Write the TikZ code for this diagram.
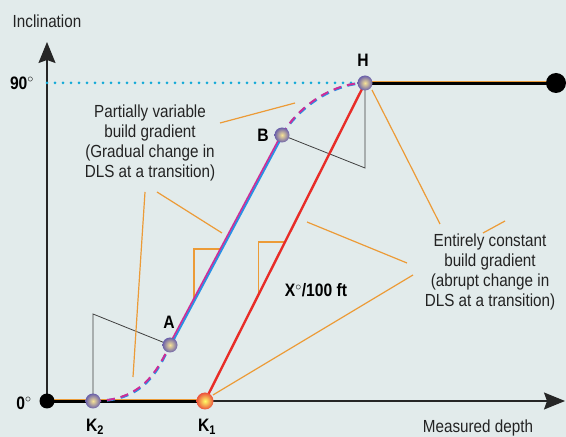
\documentclass[tikz,border=0pt]{standalone}
\usepackage{fontspec}
\setmainfont{Liberation Sans}[FakeStretch=0.87]
\usetikzlibrary{calc,arrows.meta}

\definecolor{paper}{RGB}{226,235,235}
\definecolor{dotcyan}{RGB}{20,170,215}
\definecolor{leadorange}{RGB}{236,155,55}
\definecolor{wellred}{RGB}{232,45,40}
\definecolor{wellblue}{RGB}{40,145,230}
\definecolor{wellmag}{RGB}{205,45,150}
\definecolor{ballrim}{RGB}{105,95,170}
\definecolor{ballcore}{RGB}{248,228,150}
\definecolor{redrim}{RGB}{235,80,60}
\definecolor{ink}{RGB}{35,35,35}

\begin{document}
\begin{tikzpicture}[x=1pt,y=1pt,
  txt/.style={font=\fontsize{17.5}{20}\selectfont, text=ink, align=center, inner sep=0pt},
  lbl/.style={font=\fontsize{18}{20}\selectfont\bfseries, inner sep=0pt},
  ball/.style={circle, minimum size=15pt, inner sep=0pt, shading=radial, inner color=ballcore, outer color=ballrim},
  blackdot/.style={circle, minimum size=15pt, inner sep=0pt, fill=black},
  leader/.style={leadorange, line width=1.2pt},
  axis/.style={black!85, line width=1.4pt, -{Stealth[length=21pt,width=17pt,inset=3pt]}}]

  % paper and frame
  \fill[paper] (0,0) rectangle (566,437);
  \useasboundingbox (0,0) rectangle (566,437);

  % points of the well path
  \coordinate (O) at (47,36);
  \coordinate (K2) at (93,36);
  \coordinate (K1) at (205,36);
  \coordinate (A) at (170,92);
  \coordinate (B) at (282,302);
  \coordinate (H) at (365,354);
  \coordinate (E) at (556,354);
  \coordinate (Y90) at (47,354);
  \coordinate (Ytop) at (47,395);
  \coordinate (Xtip) at (565,36);

  % axes
  \draw[axis] (O) -- (Ytop);
  \draw[axis] (O) -- (Xtip);
  \draw[leadorange, line width=1.4pt] ([yshift=1.6pt]O) -- ([yshift=1.6pt]K1);
  \draw[black, line width=3pt] ([yshift=-0.2pt]O) -- ([yshift=-0.2pt]K1);
  \draw[leadorange, line width=1.4pt] ([yshift=1.6pt]H) -- ([yshift=1.6pt]E);
  \draw[black, line width=3pt] ([yshift=-0.2pt]H) -- ([yshift=-0.2pt]E);

  % 90 degree level
  \draw[dotcyan, line width=3pt, line cap=round, dash pattern=on 0pt off 8pt] (Y90) -- (H);

  % construction lines
  \coordinate (CA) at (93,123);
  \coordinate (CB) at (365,269);
  \draw[black!75, line width=0.8pt] (K2) -- (CA) -- (A);
  \draw[black!75, line width=0.8pt] (H) -- (CB) -- (B);

  % slope triangles
  \coordinate (T1a) at ($(A)!0.214!(B)$);
  \coordinate (T1b) at ($(A)!0.457!(B)$);
  \coordinate (T2a) at ($(K1)!0.333!(H)$);
  \coordinate (T2b) at ($(K1)!0.5!(H)$);
  \draw[leader] (T1a) |- (T1b);
  \draw[leader] (T2a) |- (T2b);

  % constant build gradient
  \draw[wellred, line width=2.4pt] (K1) -- (H);

  % partially variable build gradient
  \draw[wellblue, line width=2pt] ([xshift=0.9pt]A) -- ([xshift=0.9pt]B);
  \draw[wellmag, line width=1.6pt] ([xshift=-0.9pt]A) -- ([xshift=-0.9pt]B);
  \draw[wellblue, line width=2.6pt, dash pattern=on 8pt off 6pt, xshift=0.8pt, yshift=-0.8pt]
    (K2) .. controls (142,36) and (157,66) .. (A);
  \draw[wellmag, line width=2pt, dash pattern=on 8pt off 6pt]
    (K2) .. controls (142,36) and (157,66) .. (A);
  \draw[wellblue, line width=2.6pt, dash pattern=on 8pt off 6pt, xshift=0.8pt, yshift=-0.8pt]
    (B) .. controls (296,328) and (330,354) .. (H);
  \draw[wellmag, line width=2pt, dash pattern=on 8pt off 6pt]
    (B) .. controls (296,328) and (330,354) .. (H);

  % leader ends
  \coordinate (L1a) at (220,314);
  \coordinate (L1b) at (295,334);
  \coordinate (L2a) at (145,245);
  \coordinate (L2b) at (133,60);
  \coordinate (L3a) at (157,245);
  \coordinate (L3b) at (222,204);
  \coordinate (R1a) at (440,213);
  \coordinate (R1b) at (372,347);
  \coordinate (R2a) at (483,204);
  \coordinate (R2b) at (505,216);
  \coordinate (R3a) at (407,174);
  \coordinate (R3b) at (307,215);
  \coordinate (R4a) at (413,162);
  \coordinate (R4b) at (213,42);
  \draw[leader] (L1a) -- (L1b);
  \draw[leader] (L2a) -- (L2b);
  \draw[leader] (L3a) -- (L3b);
  \draw[leader] (R1a) -- (R1b);
  \draw[leader] (R2a) -- (R2b);
  \draw[leader] (R3a) -- (R3b);
  \draw[leader] (R4a) -- (R4b);

  % stations
  \node[blackdot] (dotO) at (O) {};
  \node[blackdot, minimum size=20pt] (dotE) at (E) {};
  \node[ball] (dotK2) at (K2) {};
  \node[ball] (dotA) at (A) {};
  \node[ball] (dotB) at (B) {};
  \node[ball] (dotH) at (H) {};
  \node[ball, minimum size=17pt, inner color=yellow!60, outer color=redrim] (dotK1) at (K1) {};

  % station labels
  \node[lbl] (labH) at (363,377) {H};
  \node[lbl] (labB) at (263,302) {B};
  \node[lbl] (labA) at (169,115) {A};
  \node[lbl] (labK2) at (95,10) {K\textsubscript{2}};
  \node[lbl] (labK1) at (207,10) {K\textsubscript{1}};
  \node[lbl] (lab90) at (22,354) {90$^\circ$};
  \node[lbl] (lab0) at (24,34) {0$^\circ$};
  \node[lbl] (slope) at (316,147) {X$^\circ$/100 ft};

  % texts
  \node[txt] (incl) at (47,416) {Inclination};
  \node[txt] (depth) at (478,9) {Measured depth};
  \node[txt] (partial) at (150,294) {Partially variable\\build gradient\\(Gradual change in\\DLS at a transition)};
  \node[txt] (entire) at (490,165) {Entirely constant\\build gradient\\(abrupt change in\\DLS at a transition)};

\end{tikzpicture}
\end{document}
